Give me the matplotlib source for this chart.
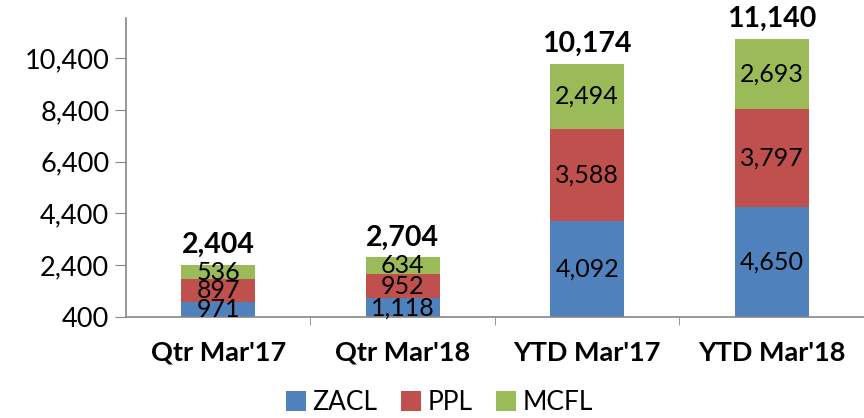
import numpy as np
import matplotlib.pyplot as plt
from matplotlib.ticker import FuncFormatter

plt.rcParams['font.family'] = ['Lato', 'DejaVu Sans']

categories = ["Qtr Mar'17", "Qtr Mar'18", "YTD Mar'17", "YTD Mar'18"]
zacl = [971, 1118, 4092, 4650]
ppl = [897, 952, 3588, 3797]
mcfl = [536, 634, 2494, 2693]
totals = [2404, 2704, 10174, 11140]
series = [("ZACL", zacl, "#4F81BD"), ("PPL", ppl, "#C0504D"), ("MCFL", mcfl, "#9BBB59")]

ymin, ymax = 400, 11950

fig = plt.figure(figsize=(8.64, 4.18), dpi=100)
ax = fig.add_axes([0.1458, 0.2416, 0.8542, 0.7154])

x = np.arange(len(categories))
bottom = np.zeros(len(categories))
for name, vals, col in series:
    vals = np.array(vals, dtype=float)
    ax.bar(x, vals, 0.4, bottom=bottom, color=col, label=name, zorder=2)
    for xi, b, v in zip(x, bottom, vals):
        lo = max(b, ymin)
        ax.text(xi, (lo + b + v) / 2, f"{int(v):,}", ha='center', va='center',
                fontsize=18, color='black', zorder=3)
    bottom += vals

for xi, t in zip(x, totals):
    ax.annotate(f"{t:,}", (xi, t), xytext=(0, 5), textcoords='offset points',
                ha='center', va='bottom', fontsize=20.5, fontweight='bold')

ax.set_xlim(-0.5, len(categories) - 0.5)
ax.set_ylim(ymin, ymax)
ax.set_yticks(np.arange(400, 10401, 2000))
ax.yaxis.set_major_formatter(FuncFormatter(lambda v, p: f"{int(v):,}"))
ax.set_xticks(x)
ax.set_xticklabels(categories, fontsize=19.5, fontweight='bold')
ax.set_xticks(np.arange(0.5, len(categories) - 1, 1), minor=True)
ax.tick_params(axis='x', which='major', length=0, pad=17)
ax.tick_params(axis='x', which='minor', length=6, color='#868686', direction='out')
ax.tick_params(axis='y', labelsize=19.5, length=8, color='#868686', direction='out', pad=4)

for s in ['top', 'right']:
    ax.spines[s].set_visible(False)
for s in ['left', 'bottom']:
    ax.spines[s].set_color('#868686')
    ax.spines[s].set_linewidth(1.2)

ax.legend(loc='upper center', bbox_to_anchor=(0.425, -0.245), ncol=3, frameon=False,
          fontsize=19, handlelength=0.75, handleheight=0.75, handletextpad=0.25,
          columnspacing=0.9, borderaxespad=0, borderpad=0)

fig.savefig('out.png', dpi=100)
